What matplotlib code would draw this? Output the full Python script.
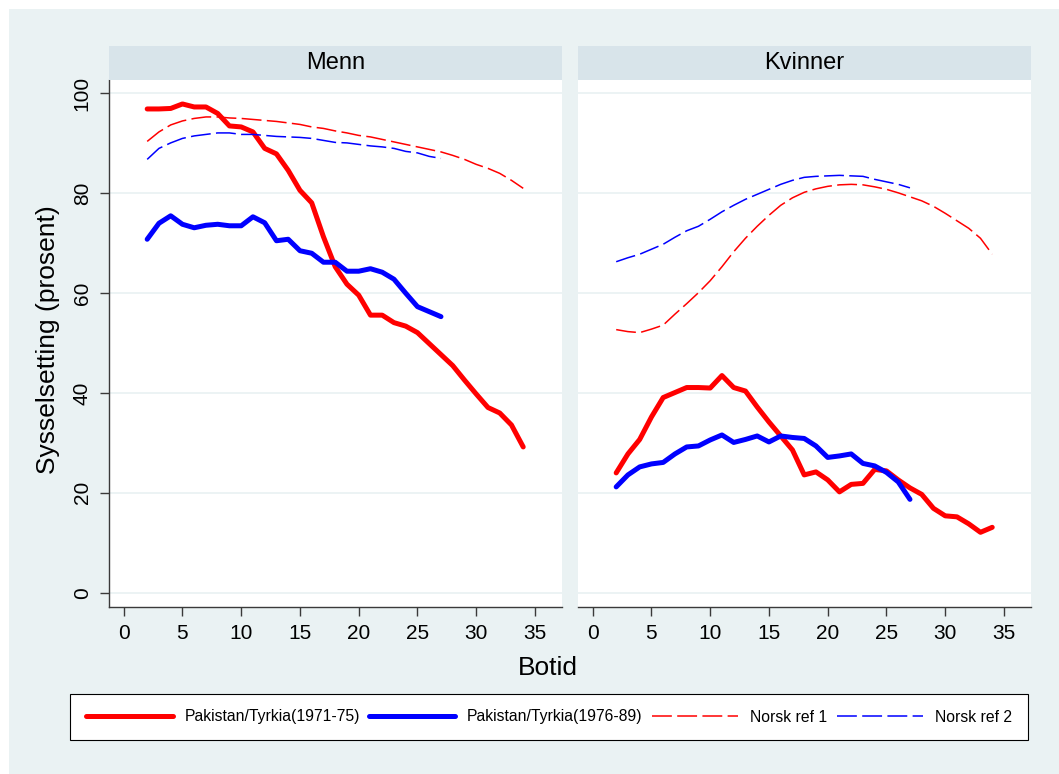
import matplotlib.pyplot as plt
from matplotlib.patches import Rectangle

plt.rcParams['font.family'] = ['Liberation Sans', 'DejaVu Sans']

# Botid (år), data lest av fra figuren
botid_lang = list(range(2, 35))   # 2..34
botid_kort = list(range(2, 28))   # 2..27

# Menn
menn_pak_7175 = [96.9, 96.9, 97.0, 97.9, 97.3, 97.3, 96.0, 93.5, 93.3, 92.3, 89.0,
                 87.9, 84.6, 80.6, 78.1, 71.3, 65.3, 61.8, 59.6, 55.6, 55.6, 54.1,
                 53.4, 52.1, 49.9, 47.7, 45.5, 42.6, 39.8, 37.1, 36.0, 33.6, 29.2]
menn_pak_7689 = [70.8, 74.0, 75.5, 73.8, 73.1, 73.6, 73.8, 73.5, 73.5, 75.3, 74.1,
                 70.5, 70.8, 68.5, 68.0, 66.2, 66.2, 64.4, 64.4, 64.9, 64.2, 62.8,
                 60.0, 57.3, 56.3, 55.3]
menn_ref1 = [90.4, 92.3, 93.7, 94.5, 95.0, 95.3, 95.3, 95.1, 95.0, 94.8, 94.6,
             94.4, 94.1, 93.8, 93.3, 93.0, 92.5, 92.1, 91.6, 91.3, 90.8, 90.3,
             89.8, 89.3, 88.8, 88.3, 87.6, 86.8, 85.8, 85.0, 84.0, 82.6, 81.0]
menn_ref2 = [86.8, 89.0, 90.1, 91.0, 91.5, 91.8, 92.1, 92.1, 91.8, 91.8, 91.6,
             91.4, 91.3, 91.2, 91.0, 90.6, 90.2, 90.1, 89.8, 89.5, 89.3, 89.0,
             88.4, 88.1, 87.4, 87.0]

# Kvinner
kv_pak_7175 = [24.0, 27.8, 30.7, 35.2, 39.1, 40.1, 41.1, 41.1, 41.0, 43.5, 41.1,
               40.4, 37.2, 34.2, 31.4, 28.6, 23.6, 24.2, 22.6, 20.2, 21.7, 21.9,
               24.7, 24.4, 22.6, 21.0, 19.7, 16.9, 15.4, 15.2, 13.8, 12.1, 13.1]
kv_pak_7689 = [21.2, 23.6, 25.2, 25.8, 26.1, 27.8, 29.2, 29.4, 30.6, 31.6, 30.1,
               30.7, 31.4, 30.2, 31.4, 31.1, 30.9, 29.4, 27.1, 27.4, 27.8, 25.9,
               25.4, 24.1, 22.2, 18.7]
kv_ref1 = [52.7, 52.3, 52.1, 52.8, 53.6, 55.8, 57.9, 60.1, 62.5, 65.3, 68.3,
           71.0, 73.4, 75.6, 77.6, 79.1, 80.2, 80.9, 81.4, 81.7, 81.8, 81.7,
           81.3, 80.8, 80.1, 79.3, 78.5, 77.4, 76.0, 74.5, 73.0, 71.0, 67.8]
kv_ref2 = [66.3, 67.1, 67.8, 68.8, 69.8, 71.2, 72.5, 73.4, 74.8, 76.3, 77.6,
           78.8, 79.8, 80.8, 81.8, 82.6, 83.2, 83.4, 83.5, 83.6, 83.5, 83.4,
           82.8, 82.3, 81.8, 81.1]

paneler = ["Menn", "Kvinner"]
serier = [
    (menn_pak_7175, menn_pak_7689, menn_ref1, menn_ref2),
    (kv_pak_7175, kv_pak_7689, kv_ref1, kv_ref2),
]
etiketter = ["Pakistan/Tyrkia(1971-75)", "Pakistan/Tyrkia(1976-89)",
             "Norsk ref 1", "Norsk ref 2"]

bakgrunn = "#EAF2F3"
stripe = "#D8E4EA"
aksefarge = "#3a3a3a"

W, H = 1059, 774
fig = plt.figure(figsize=(W / 100, H / 100), dpi=100, facecolor="white")
fig.patches.append(Rectangle((9 / W, 0), 1 - 9 / W, 1 - 9 / H, transform=fig.transFigure,
                             facecolor=bakgrunn, edgecolor="none", zorder=-10))

venstre = [109, 578]
bredde = 453
bunn_px, topp_px = 607, 80

handles = []
for i, navn in enumerate(paneler):
    ax = fig.add_axes([venstre[i] / W, 1 - bunn_px / H, bredde / W, (bunn_px - topp_px) / H])
    ax.set_facecolor("white")
    pak1, pak2, ref1, ref2 = serier[i]

    for y in range(0, 101, 20):
        ax.axhline(y, color=bakgrunn, lw=1.3, zorder=0)

    l1, = ax.plot(botid_lang, pak1, color="red", lw=3.6, solid_capstyle="round",
                  solid_joinstyle="round")
    l2, = ax.plot(botid_kort, pak2, color="blue", lw=3.6, solid_capstyle="round",
                  solid_joinstyle="round")
    l3, = ax.plot(botid_lang, ref1, color="red", lw=1.1, dashes=(13, 3.5))
    l4, = ax.plot(botid_kort, ref2, color="blue", lw=1.1, dashes=(13, 3.5))
    if i == 0:
        handles = [l1, l2, l3, l4]

    ax.set_xlim(-1.25, 37.3)
    ax.set_ylim(-2.86, 102.7)
    ax.set_xticks(range(0, 36, 5))
    ax.set_yticks(range(0, 101, 20))
    for s in ["top", "right"]:
        ax.spines[s].set_visible(False)
    ax.spines["bottom"].set_color(aksefarge)
    ax.spines["bottom"].set_linewidth(1.0)
    ax.tick_params(axis="x", length=6.5, width=1.0, color=aksefarge, pad=6, labelsize=15)
    if i == 0:
        ax.spines["left"].set_color(aksefarge)
        ax.spines["left"].set_linewidth(1.0)
        ax.tick_params(axis="y", length=6.5, width=1.0, color=aksefarge, pad=6, labelsize=15)
        for lab in ax.get_yticklabels():
            lab.set_rotation(90)
            lab.set_va("center")
    else:
        ax.spines["left"].set_visible(False)
        ax.tick_params(axis="y", left=False, labelleft=False)

    # stripe med paneltittel
    sax = fig.add_axes([venstre[i] / W, 1 - topp_px / H, bredde / W, 34 / H])
    sax.set_facecolor(stripe)
    sax.set_xticks([])
    sax.set_yticks([])
    for s in sax.spines.values():
        s.set_visible(False)
    sax.text(0.5, 0.5, navn, ha="center", va="center", fontsize=17, transform=sax.transAxes)

fig.text(548 / W, 1 - 668 / H, "Botid", ha="center", va="center", fontsize=19)
fig.text(48 / W, 1 - 340 / H, "Sysselsetting (prosent)", ha="center", va="center",
         rotation=90, fontsize=19)

leg = fig.legend(handles, etiketter, loc="center", ncol=4,
                 bbox_to_anchor=(549 / W, 1 - 717 / H), fontsize=11.3,
                 handlelength=5.5, handletextpad=0.75, columnspacing=0.6,
                 borderpad=1.0, frameon=True, fancybox=False)
leg.get_frame().set_edgecolor("black")
leg.get_frame().set_linewidth(0.8)
leg.get_frame().set_facecolor("white")
leg.get_frame().set_alpha(1)

fig.savefig("out.png", dpi=100, facecolor=fig.get_facecolor())
